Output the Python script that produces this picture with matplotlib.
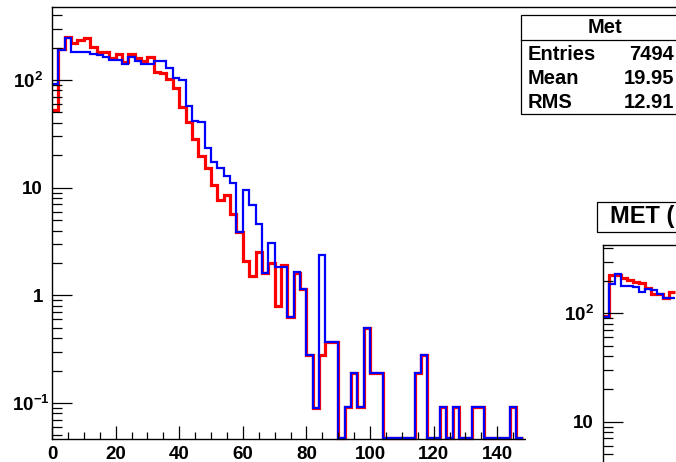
import numpy as np
import matplotlib
matplotlib.use("Agg")
import matplotlib.pyplot as plt
from matplotlib.patches import Rectangle
from matplotlib.lines import Line2D

plt.rcParams['font.family'] = ['Liberation Sans', 'DejaVu Sans']
plt.rcParams['font.weight'] = 'bold'
plt.rcParams['mathtext.fontset'] = 'custom'
plt.rcParams['mathtext.rm'] = 'Liberation Sans:bold'
plt.rcParams['mathtext.it'] = 'Liberation Sans:bold'
plt.rcParams['mathtext.bf'] = 'Liberation Sans:bold'

# ---- data: MET distribution, 2 GeV bins from 0 to 148 ----
bin_edges = np.arange(0, 150, 2)
met_red = [53, 196, 252, 222, 235, 243, 203, 183, 183, 160, 175, 148, 173, 160, 150,
           163, 119, 117, 103, 83.6, 55.6, 40.9, 28.1, 19.7, 15.1, 10.6, 7.7, 8.5,
           5.7, 3.9, 2.08, 1.51, 2.54, 1.6, 1.98, 0.80, 1.91, 0.63, 1.62, 1.14,
           0.279, 0.089, 0.279, 0.371, 0.371, 0, 0.092, 0.189, 0.092, 0.50, 0.189,
           0.189, 0, 0, 0, 0, 0, 0.189, 0.279, 0, 0, 0.092, 0, 0.092, 0, 0, 0.092,
           0.092, 0, 0, 0, 0, 0.092, 0]
met_blue = [92, 190, 243, 183, 183, 183, 174, 170, 165, 153, 153, 140, 164, 150, 140,
            140, 151, 151, 128, 105, 101, 57, 41.8, 40.9, 23.2, 17.4, 15.3, 12.8,
            11.1, 3.9, 9.5, 6.9, 4.6, 1.62, 3.04, 1.85, 1.85, 0.63, 1.66, 1.14,
            0.279, 0.089, 2.37, 0.371, 0.371, 0, 0.092, 0.189, 0.092, 0.50, 0.189,
            0.189, 0, 0, 0, 0, 0, 0.189, 0.279, 0, 0, 0.092, 0, 0.092, 0, 0, 0.092,
            0.092, 0, 0, 0, 0, 0.092, 0]

# second pad (MET, first bins)
pad2_edges = np.arange(0, 26, 2)
pad2_red = [95, 226, 226, 211, 203, 196, 190, 170, 151, 151, 138, 158]
pad2_blue = [93, 187, 231, 180, 178, 174, 158, 168, 164, 151, 138, 138]

stat_names = ["Entries", "Mean", "RMS"]
stat_values = ["7494", "19.95", "12.91"]

x_ticks = [0, 20, 40, 60, 80, 100, 120, 140]
y_ticks = [0.1, 1, 10, 100]
y_ticklabels = [r'$10^{-1}$', '1', '10', r'$10^{2}$']

W, H, DPI = 676, 462, 100
fig = plt.figure(figsize=(W / DPI, H / DPI), dpi=DPI)
fig.patch.set_facecolor('white')


def fx(x):
    return x / W


def fy(y):
    return 1 - y / H


def px_axes(left, top, right, bottom, **kw):
    return fig.add_axes([fx(left), fy(bottom), (right - left) / W, (bottom - top) / H], **kw)


def style_log_axis(ax, ticks, labels, labelsize, gaps):
    ax.set_yscale('log')
    ax.set_yticks(ticks)
    ax.set_yticklabels([])
    ax.yaxis.set_minor_locator(matplotlib.ticker.LogLocator(base=10, subs=np.arange(2, 10)))
    ax.yaxis.set_minor_formatter(matplotlib.ticker.NullFormatter())
    ax.tick_params(axis='y', which='major', direction='in', length=14.4, width=0.9, right=False)
    ax.tick_params(axis='y', which='minor', direction='in', length=7.2, width=0.9, right=False)
    for s in ('right', 'bottom'):
        ax.spines[s].set_visible(False)
    for s in ('left', 'top'):
        ax.spines[s].set_linewidth(1.0)
    # labels placed a fixed number of pixels left of the axis
    for t, lab, gap in zip(ticks, labels, gaps):
        trans = matplotlib.transforms.blended_transform_factory(ax.transAxes, ax.transData)
        off = matplotlib.transforms.ScaledTranslation(-gap / DPI, 0, fig.dpi_scale_trans)
        ax.text(0, t, lab, transform=trans + off, ha='right', va='center_baseline',
                fontsize=labelsize, fontweight='bold', clip_on=False)


def floor(vals, lo):
    v = np.asarray(vals, dtype=float)
    return np.where(v > 0, v, lo * 1.02)


# ---- main pad ----
scale = 3.18                    # pixels per GeV
x_left, x_right = 52, 760
ymin, ymax = 10 ** -1.334, 10 ** 2.678
ax = px_axes(x_left, 7, x_right, 439)
ax.set_xlim(0, (x_right - x_left) / scale)
ax.set_ylim(ymin, ymax)
style_log_axis(ax, y_ticks, y_ticklabels, 13.5, [2, 9, 9, 9])
ax.spines['bottom'].set_visible(True)
ax.spines['bottom'].set_linewidth(1.0)
ax.set_xticks(x_ticks)
ax.set_xticklabels([str(t) for t in x_ticks])
ax.xaxis.set_minor_locator(matplotlib.ticker.FixedLocator(np.arange(0, 155, 5)))
ax.tick_params(axis='x', which='major', direction='in', length=9.4, width=0.9,
               labelsize=13.5, pad=5, top=False)
ax.tick_params(axis='x', which='minor', direction='in', length=5, width=0.9, top=False)

ax.stairs(floor(met_red, ymin), bin_edges, baseline=None, color='#ff0000', lw=2.3, clip_on=False)
ax.stairs(floor(met_blue, ymin), bin_edges, baseline=None, color='#0000ff', lw=1.6, clip_on=False)

# ---- statistics box ----
box_l, box_r, box_t, box_b = 521, 690, 15, 114
fig.add_artist(Rectangle((fx(box_l), fy(box_b)), (box_r - box_l) / W, (box_b - box_t) / H,
                         transform=fig.transFigure, facecolor='white', edgecolor='black',
                         lw=0.9, zorder=3))
fig.add_artist(Line2D([fx(box_l), fx(box_r)], [fy(40), fy(40)], transform=fig.transFigure,
                      color='black', lw=0.9, zorder=4))
fig.text(fx(605), fy(27.5), "Met", ha='center', va='center', fontsize=14.5,
         fontweight='bold', zorder=4)
for i, (name, val) in enumerate(zip(stat_names, stat_values)):
    yy = 55 + i * 23.5
    fig.text(fx(528), fy(yy), name, ha='left', va='center', fontsize=14.5,
             fontweight='bold', zorder=4)
    fig.text(fx(674), fy(yy), val, ha='right', va='center', fontsize=14.5,
             fontweight='bold', zorder=4)

# ---- second pad (partially visible) ----
fig.add_artist(Rectangle((fx(526), fy(470)), (700 - 526) / W, (470 - 190) / H,
                         transform=fig.transFigure, facecolor='white', edgecolor='none',
                         zorder=5))
p2_left, p2_top, p2_bottom = 603, 245, 700
ax2 = px_axes(p2_left, p2_top, 760, p2_bottom)
ax2.set_zorder(6)
ax2.set_facecolor('white')
ax2.set_xlim(0, (760 - p2_left) / 3.0)
ax2.set_ylim(10 ** (2 - (p2_bottom - 313.3) / 108.4), 10 ** (2 + (313.3 - p2_top) / 108.4))
style_log_axis(ax2, [10, 100], ['10', r'$10^{2}$'], 13.5, [9, 9])
ax2.set_xticks([])
ax2.stairs(pad2_red, pad2_edges, baseline=None, color='#ff0000', lw=2.3)
ax2.stairs(pad2_blue, pad2_edges, baseline=None, color='#0000ff', lw=1.6)

fig.add_artist(Rectangle((fx(597), fy(232)), (760 - 597) / W, (232 - 202) / H,
                         transform=fig.transFigure, facecolor='white', edgecolor='black',
                         lw=0.9, zorder=7))
fig.text(fx(610), fy(217), "MET (", ha='left', va='center', fontsize=17,
         fontweight='bold', zorder=8)

fig.savefig('out.png', dpi=DPI)
